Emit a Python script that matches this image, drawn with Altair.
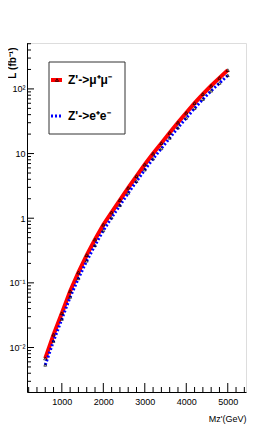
import altair as alt
import pandas as pd

# ---- data ----
mz = [600, 800, 1000, 1200, 1400, 1600, 1800, 2000, 2200, 2400, 2600, 2800,
      3000, 3200, 3400, 3600, 3800, 4000, 4200, 4400, 4600, 4800, 5000]
lumi_mumu = [0.00676, 0.0158, 0.0339, 0.0741, 0.145, 0.269, 0.468, 0.794,
             1.23, 1.91, 2.95, 4.47, 6.76, 10.0, 14.5, 20.9, 30.2, 42.7,
             60.3, 83.2, 112, 148, 195]
lumi_ee = [0.00537, 0.0126, 0.0275, 0.0603, 0.117, 0.219, 0.380, 0.646,
           1.02, 1.58, 2.45, 3.72, 5.62, 8.32, 12.0, 17.4, 25.1, 35.5,
           50.1, 69.2, 93.3, 123, 162]

x_ticks = [1000, 2000, 3000, 4000, 5000]
x_minor = [v for v in range(200, 5440, 200) if v % 1000 != 0]
y_ticks = [0.01, 0.1, 1, 10, 100]
y_minor = [k * d for d in [0.001, 0.01, 0.1, 1, 10, 100] for k in range(2, 10)
           if 0.00205 <= k * d <= 513]

label_names = ["Z'->\u03bc\u207a\u03bc\u207b", "Z'->e\u207ae\u207b"]
x_title = "Mz'(GeV)"
y_title = "L (fb\u207b\u00b9)"

W, H = 219, 349
FONT = "Liberation Sans"

df_mm = pd.DataFrame({"Mz": mz, "L": lumi_mumu})
df_ee = pd.DataFrame({"Mz": mz, "L": lumi_ee})

xscale = alt.Scale(domain=[160, 5440], nice=False, zero=False)
yscale = alt.Scale(type="log", domain=[0.00205, 513], nice=False)

xaxis = alt.Axis(values=x_ticks, tickSize=0, labelPadding=5, grid=False, format="d",
                 labelFont=FONT, labelFontSize=9, labelColor="black",
                 domainColor="black", labelFlush=False,
                 title=x_title, titleFont=FONT, titleFontSize=9, titleFontWeight="normal",
                 titleColor="black", titleAnchor="end", titleAlign="right",
                 titleBaseline="middle", titleX=W, titleY=26)
yaxis = alt.Axis(values=y_ticks, tickSize=0, labelPadding=2, grid=False,
                 labelFont=FONT, labelFontSize=9, labelColor="black",
                 domainColor="black",
                 labelExpr="datum.value == 100 ? '10\u00b2' : datum.value == 10 ? '10' : "
                           "datum.value == 1 ? '1' : datum.value == 0.1 ? '10\u207b\u00b9' : '10\u207b\u00b2'",
                 title=y_title, titleFont=FONT, titleFontSize=10, titleFontWeight="bold",
                 titleColor="black", titleAngle=270, titleAnchor="end", titleAlign="right",
                 titleBaseline="middle", titleX=-15, titleY=4)

X = lambda f: alt.X(f, scale=xscale, axis=xaxis)
Y = lambda f: alt.Y(f, scale=yscale, axis=yaxis)

red = alt.Chart(df_mm).mark_line(color="#ff0000", strokeWidth=4).encode(
    x=X("Mz:Q"), y=Y("L:Q"))
blue = alt.Chart(df_ee).mark_line(color="#0000ff", strokeWidth=3, strokeDash=[2, 2]).encode(
    x=X("Mz:Q"), y=Y("L:Q"))
pts_mm = alt.Chart(df_mm).mark_point(shape="triangle-up", color="black", size=10,
                                     strokeWidth=1, filled=False).encode(
    x=X("Mz:Q"), y=Y("L:Q"))
pts_ee = alt.Chart(df_ee).mark_point(shape="triangle-up", color="black", size=8,
                                     strokeWidth=1, filled=False).encode(
    x=X("Mz:Q"), y=Y("L:Q"))

# inward ticks
ymaj = alt.Chart(pd.DataFrame({"Mz": [1000] * len(y_ticks), "L": y_ticks})).mark_rule(color="black").encode(
    y=Y("L:Q"), x=alt.value(0), x2=alt.value(7))
ymin = alt.Chart(pd.DataFrame({"Mz": [1000] * len(y_minor), "L": y_minor})).mark_rule(color="black").encode(
    y=Y("L:Q"), x=alt.value(0), x2=alt.value(4))
xmaj = alt.Chart(pd.DataFrame({"Mz": x_ticks, "L": [1] * len(x_ticks)})).mark_rule(color="black").encode(
    x=X("Mz:Q"), y=alt.value(H), y2=alt.value(H - 9))
xmin = alt.Chart(pd.DataFrame({"Mz": x_minor, "L": [1] * len(x_minor)})).mark_rule(color="black").encode(
    x=X("Mz:Q"), y=alt.value(H), y2=alt.value(H - 5))

one = pd.DataFrame({"a": [0]})
leg_box = alt.Chart(one).mark_rect(fill="white", stroke="#333333", strokeWidth=1).encode(
    x=alt.value(22), x2=alt.value(98), y=alt.value(19), y2=alt.value(91))
leg_red = alt.Chart(one).mark_rule(color="#ff0000", strokeWidth=4).encode(
    x=alt.value(24), x2=alt.value(35), y=alt.value(37))
leg_red_pt = alt.Chart(one).mark_point(shape="triangle-up", color="black", size=10,
                                       strokeWidth=1, filled=False).encode(
    x=alt.value(30), y=alt.value(37))
leg_blue = alt.Chart(one).mark_rule(color="#0000ff", strokeWidth=3, strokeDash=[2, 2]).encode(
    x=alt.value(24), x2=alt.value(36), y=alt.value(73))
leg_t1 = alt.Chart(one).mark_text(align="left", baseline="middle", font=FONT, fontSize=12,
                                  fontWeight="bold", color="black").encode(
    x=alt.value(41), y=alt.value(37), text=alt.value(label_names[0]))
leg_t2 = alt.Chart(one).mark_text(align="left", baseline="middle", font=FONT, fontSize=12,
                                  fontWeight="bold", color="black").encode(
    x=alt.value(41), y=alt.value(73), text=alt.value(label_names[1]))

chart = alt.layer(
    red, ymaj, ymin, xmaj, xmin, blue, pts_mm, pts_ee,
    leg_box, leg_red, leg_red_pt, leg_blue, leg_t1, leg_t2
).properties(
    width=W, height=H,
    autosize=alt.AutoSizeParams(type="none"),
    padding={"left": 19, "top": 35, "right": 12, "bottom": 40},
).configure_view(stroke="#444444", strokeWidth=1).configure(background="white")

chart.save("out.html", embed_options={"renderer": "svg", "actions": False})
